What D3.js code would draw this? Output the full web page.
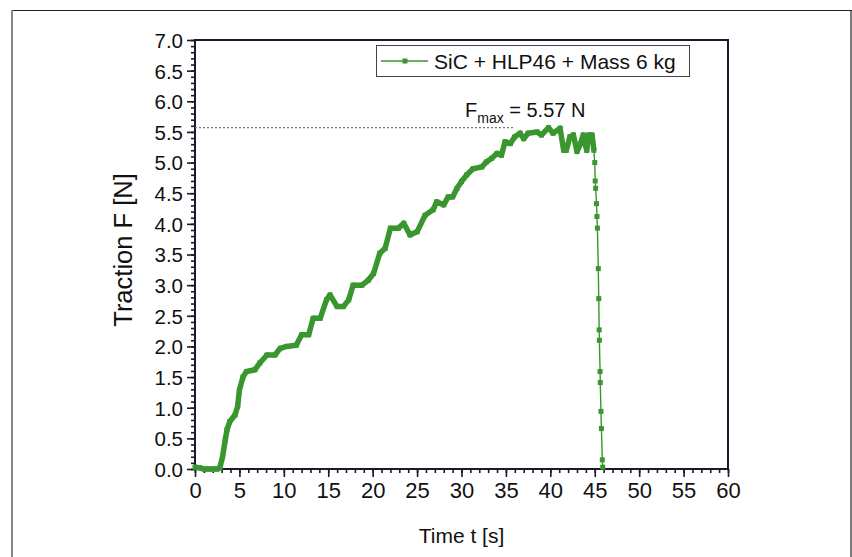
<!DOCTYPE html>
<html>
<head>
<meta charset="utf-8">
<script src="https://cdn.jsdelivr.net/npm/d3@7"></script>
<style>
  body { margin: 0; background: #fff; }
  text { font-family: Arial, "Liberation Sans", sans-serif; fill: #111; }
</style>
</head>
<body>
<svg id="chart" width="852" height="557"></svg>
<script>
// traction test, values
const time = [0, 0.5, 1.0, 1.5, 2.0, 2.5, 2.8, 3.1, 3.4, 3.6, 3.9, 4.5, 4.8, 5.0, 5.4, 5.8,
  6.75, 7.3, 8.1, 9.0, 9.6, 10.3, 11.4, 12.0, 12.8, 13.3, 14.1, 14.8, 15.2, 16.0, 16.7,
  17.3, 17.8, 18.8, 19.5, 20.1, 20.8, 21.4, 22.0, 22.9, 23.5, 24.2, 25.0, 25.9, 26.8,
  27.2, 28.0, 28.5, 29.0, 29.5, 30.0, 30.6, 31.3, 32.3, 32.8, 33.4, 34.0, 34.5, 34.9,
  35.5, 36.0, 36.6, 37.0, 37.5, 38.5, 39.0, 39.8, 40.3, 41.1, 41.5, 41.8, 42.2, 42.6,
  43.0, 43.4, 43.7, 44.1, 44.3, 44.7,
  44.9, 45.0, 45.05, 45.1, 45.2, 45.25, 45.3, 45.4, 45.45, 45.5, 45.52, 45.6, 45.62,
  45.7, 45.75, 45.85, 45.9]
const force = [0.03, 0.02, 0.0, 0.0, 0.0, 0.0, 0.02, 0.2, 0.47, 0.64, 0.77, 0.88, 1.02, 1.29, 1.5, 1.59,
  1.62, 1.73, 1.86, 1.86, 1.97, 2.0, 2.02, 2.19, 2.19, 2.46, 2.46, 2.76, 2.84, 2.65, 2.65,
  2.76, 3.0, 3.0, 3.08, 3.19, 3.52, 3.6, 3.93, 3.93, 4.01, 3.82, 3.87, 4.14, 4.23,
  4.36, 4.31, 4.44, 4.44, 4.58, 4.69, 4.8, 4.9, 4.93, 5.01, 5.07, 5.15, 5.12, 5.34,
  5.31, 5.42, 5.48, 5.39, 5.48, 5.5, 5.45, 5.57, 5.48, 5.56, 5.2, 5.2, 5.42, 5.45,
  5.18, 5.31, 5.45, 5.2, 5.45, 5.45,
  5.2, 5.0, 4.7, 4.58, 4.33, 4.12, 3.93, 3.27, 2.78, 2.27, 2.1, 1.59, 1.41,
  0.94, 0.66, 0.15, 0.03]
// first points are so close that the markers merge into a thick band
const denseEnd = 79

const xTicks = [0, 5, 10, 15, 20, 25, 30, 35, 40, 45, 50, 55, 60]
const yTicks = [0, 0.5, 1, 1.5, 2, 2.5, 3, 3.5, 4, 4.5, 5, 5.5, 6, 6.5, 7]
const seriesName = "SiC + HLP46 + Mass 6 kg"
const fMax = 5.57

const green = "#3a962e"
const svg = d3.select("#chart")

// outer figure frame
svg.append("line").attr("x1", 12).attr("x2", 852).attr("y1", 10.5).attr("y2", 10.5)
  .attr("stroke", "#222").attr("stroke-width", 1.2)
svg.append("line").attr("x1", 12).attr("x2", 12).attr("y1", 10).attr("y2", 557)
  .attr("stroke", "#888").attr("stroke-width", 2)
svg.append("line").attr("x1", 851).attr("x2", 851).attr("y1", 10).attr("y2", 557)
  .attr("stroke", "#222").attr("stroke-width", 1.2)

const plotL = 195, plotR = 728, plotT = 40, plotB = 469

const x = d3.scaleLinear().domain([0, 60]).range([plotL, plotR])
const y = d3.scaleLinear().domain([0, 7]).range([plotB, plotT])

// minor ticks
const xAxisMinor = d3.axisBottom(x).tickValues(d3.range(0, 61, 1)).tickSize(4).tickFormat("")
const yAxisMinor = d3.axisLeft(y).tickValues(d3.range(0, 71, 1).map(d => d / 10)).tickSize(4).tickFormat("")
svg.append("g").attr("transform", `translate(0,${plotB})`).call(xAxisMinor)
svg.append("g").attr("transform", `translate(${plotL},0)`).call(yAxisMinor)

const xAxis = d3.axisBottom(x).tickValues(xTicks).tickSize(8).tickPadding(5).tickFormat(d3.format("d"))
const yAxis = d3.axisLeft(y).tickValues(yTicks).tickSize(8).tickPadding(4).tickFormat(d3.format(".1f"))
const gx = svg.append("g").attr("transform", `translate(0,${plotB})`).call(xAxis)
const gy = svg.append("g").attr("transform", `translate(${plotL},0)`).call(yAxis)
gx.selectAll("text").style("font-size", "22px")
gy.selectAll("text").style("font-size", "20.5px").attr("dy", "0.36em")
svg.selectAll(".domain").remove()
svg.selectAll(".tick line").attr("stroke", "#1a1a2a").attr("stroke-width", 1.6)

// plot frame
svg.append("rect").attr("x", plotL).attr("y", plotT)
  .attr("width", plotR - plotL).attr("height", plotB - plotT)
  .attr("fill", "none").attr("stroke", "#1a1a2a").attr("stroke-width", 2)

// axis titles
svg.append("text").attr("x", (plotL + plotR) / 2).attr("y", 543)
  .attr("text-anchor", "middle").style("font-size", "21px").text("Time t [s]")
svg.append("text").attr("transform", `translate(132,250) rotate(-90)`)
  .attr("text-anchor", "middle").style("font-size", "25.5px").text("Traction F [N]")

// Fmax reference line
svg.append("line").attr("x1", x(0)).attr("x2", x(35.8))
  .attr("y1", y(fMax)).attr("y2", y(fMax))
  .attr("stroke", "#777").attr("stroke-width", 1.2).attr("stroke-dasharray", "2,2")

const fmaxLabel = svg.append("text").attr("x", 465).attr("y", 117).style("font-size", "20px")
fmaxLabel.append("tspan").text("F")
fmaxLabel.append("tspan").attr("dy", 6).style("font-size", "14px").text("max")
fmaxLabel.append("tspan").attr("dy", -6).text(` = ${fMax} N`)

// data
const pts = time.map((t, i) => ({ t, f: force[i] }))
const line = d3.line().x(d => x(d.t)).y(d => y(d.f))

svg.append("path").datum(pts.slice(0, denseEnd + 1))
  .attr("d", line).attr("fill", "none").attr("stroke", green)
  .attr("stroke-width", 5.5).attr("stroke-linejoin", "round")
svg.append("path").datum(pts)
  .attr("d", line).attr("fill", "none").attr("stroke", green).attr("stroke-width", 1.4)
svg.append("g").selectAll("rect").data(pts).join("rect")
  .attr("x", d => x(d.t) - 2.5).attr("y", d => y(d.f) - 2.5)
  .attr("width", 5).attr("height", 5).attr("fill", green)

// legend
const lg = svg.append("g")
lg.append("rect").attr("x", 376.5).attr("y", 45.5).attr("width", 313).attr("height", 31)
  .attr("fill", "#fff").attr("stroke", "#444").attr("stroke-width", 1)
lg.append("line").attr("x1", 381).attr("x2", 428).attr("y1", 61).attr("y2", 61)
  .attr("stroke", green).attr("stroke-width", 1.4)
lg.append("rect").attr("x", 402.5).attr("y", 58.5).attr("width", 5).attr("height", 5).attr("fill", green)
lg.append("text").attr("x", 434).attr("y", 68.5).style("font-size", "21px").text(seriesName)
</script>
</body>
</html>
